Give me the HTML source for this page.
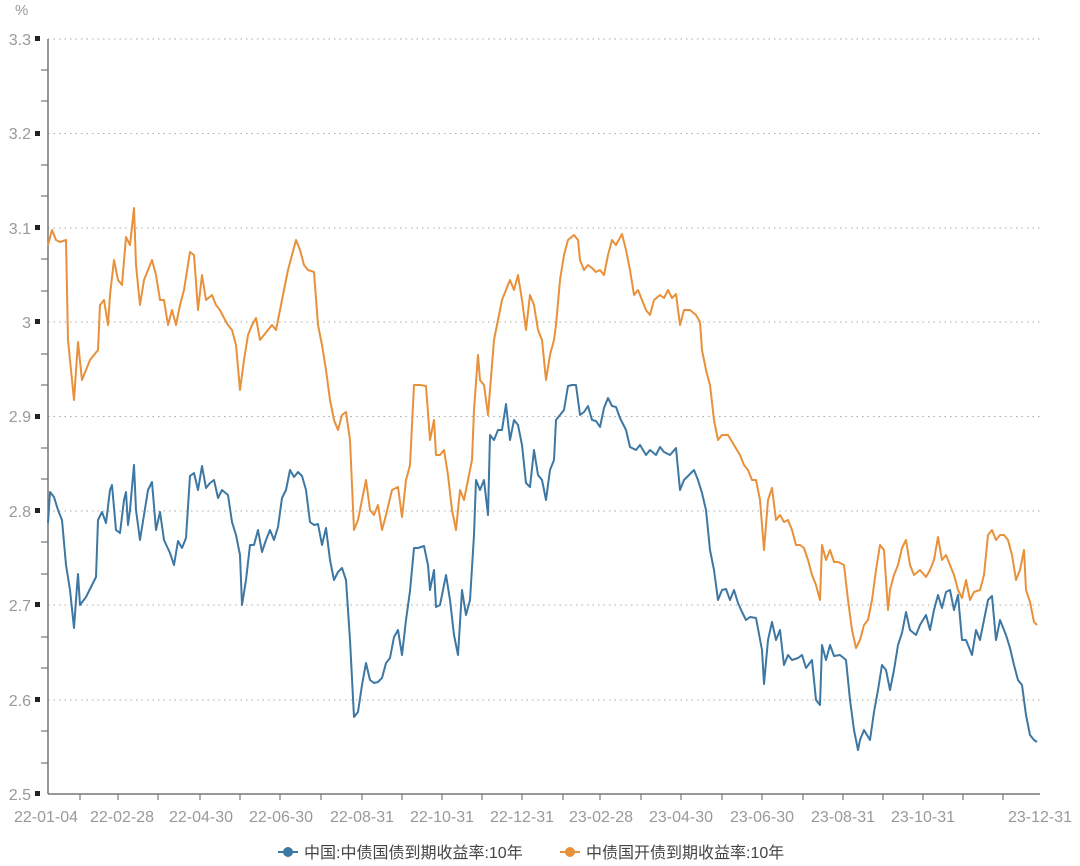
<!DOCTYPE html>
<html><head><meta charset="utf-8"><style>
body{margin:0;background:#fff;}
svg text{font-family:"Liberation Sans","Noto Sans CJK SC",sans-serif;}
</style></head><body>
<svg width="1080" height="861" viewBox="0 0 1080 861" xmlns="http://www.w3.org/2000/svg">
<g stroke="#aaa" stroke-dasharray="1.5,4" stroke-width="1">
<line x1="48" y1="39" x2="1040" y2="39"/><line x1="48" y1="133.5" x2="1040" y2="133.5"/><line x1="48" y1="228" x2="1040" y2="228"/><line x1="48" y1="322" x2="1040" y2="322"/><line x1="48" y1="416.5" x2="1040" y2="416.5"/><line x1="48" y1="511" x2="1040" y2="511"/><line x1="48" y1="605" x2="1040" y2="605"/><line x1="48" y1="700" x2="1040" y2="700"/>
</g>
<line x1="48" y1="39" x2="48" y2="794" stroke="#777" stroke-width="1.5"/>
<line x1="48" y1="794" x2="1040" y2="794" stroke="#777" stroke-width="1.5"/>
<g stroke="#777" stroke-width="1.2" id="yt"></g>
<g fill="#999" font-size="16" text-anchor="end">
<text x="31" y="45">3.3</text><text x="31" y="139">3.2</text><text x="31" y="234">3.1</text><text x="31" y="328">3</text><text x="31" y="422">2.9</text><text x="31" y="517">2.8</text><text x="31" y="611">2.7</text><text x="31" y="706">2.6</text><text x="31" y="800">2.5</text>
</g>
<g fill="#222"><rect x="35" y="36" width="5" height="5"/><rect x="35" y="131" width="5" height="5"/><rect x="35" y="225" width="5" height="5"/><rect x="35" y="319" width="5" height="5"/><rect x="35" y="414" width="5" height="5"/><rect x="35" y="508" width="5" height="5"/><rect x="35" y="602" width="5" height="5"/><rect x="35" y="697" width="5" height="5"/><rect x="35" y="791" width="5" height="5"/></g>
<text x="15" y="15" fill="#999" font-size="15">%</text>
<g fill="#999" font-size="16" text-anchor="middle">
<text x="46" y="822">22-01-04</text><text x="122" y="822">22-02-28</text><text x="201" y="822">22-04-30</text><text x="281" y="822">22-06-30</text><text x="362" y="822">22-08-31</text><text x="442" y="822">22-10-31</text><text x="522" y="822">22-12-31</text><text x="601" y="822">23-02-28</text><text x="681" y="822">23-04-30</text><text x="762" y="822">23-06-30</text><text x="843" y="822">23-08-31</text><text x="923" y="822">23-10-31</text><text x="1040" y="822">23-12-31</text>
</g>
<polyline fill="none" stroke="#3d77a3" stroke-width="2" stroke-linejoin="round" points="48,523 50,492 54,497 58,510 62,520 66,565 70,590 74,628 76,600 78,574 80,605 86,597 92,585 96,577 98,520 102,512 106,523 110,490 112,485 116,530 120,533 124,500 126,492 128,525 130,510 134,465 136,510 140,540 144,515 148,490 152,482 156,530 160,512 164,540 170,553 174,565 178,541 182,548 186,538 190,476 194,473 198,490 202,466 206,488 210,483 214,480 218,498 222,490 228,495 232,522 236,535 240,555 242,605 246,580 250,545 254,545 258,530 262,552 266,540 270,530 274,540 278,527 282,498 286,490 290,470 294,477 298,472 302,476 306,490 310,522 314,525 318,524 322,545 326,528 330,560 334,580 338,572 342,568 346,580 350,640 354,717 358,712 362,685 366,663 370,680 374,683 378,682 382,678 386,663 390,658 394,637 398,630 402,655 406,620 410,591 414,548 418,548 424,546 428,565 430,590 434,570 436,607 440,605 446,575 450,600 454,635 458,655 462,590 466,615 470,600 474,535 476,480 480,490 484,480 488,515 490,435 494,440 498,430 502,430 506,404 510,440 514,420 518,425 522,445 526,483 530,487 534,450 538,475 542,480 546,500 550,470 554,460 556,420 560,415 564,410 568,386 572,385 576,385 580,415 584,412 588,406 592,420 596,421 600,427 604,408 608,398 612,406 616,407 620,418 626,430 630,447 636,450 640,445 646,455 650,450 656,455 660,447 664,452 670,455 676,448 680,490 684,480 690,474 694,470 698,480 702,493 706,510 710,550 714,570 718,600 722,590 726,589 730,600 734,590 738,603 742,612 746,620 750,617 756,618 762,650 764,684 768,640 772,622 776,640 780,630 784,665 788,655 792,660 798,658 802,655 806,668 812,660 816,700 820,705 822,645 826,660 830,645 834,656 840,655 846,660 850,700 854,730 858,750 860,740 864,730 870,740 874,712 878,690 882,665 886,670 890,690 894,670 898,645 902,633 906,612 910,630 916,635 920,625 926,615 930,630 934,610 938,595 942,608 946,592 950,590 954,610 958,595 962,640 966,640 972,655 976,630 980,640 984,620 988,600 992,596 996,640 1000,620 1006,635 1010,648 1014,665 1018,680 1022,685 1026,715 1030,735 1034,740 1037,742"/>
<polyline fill="none" stroke="#e8913a" stroke-width="2" stroke-linejoin="round" points="48,245 52,230 56,240 60,242 66,240 68,340 72,380 74,400 78,342 82,380 86,370 90,360 94,355 98,350 100,305 104,300 108,325 110,295 114,260 118,280 122,285 126,237 130,245 134,208 136,265 140,305 144,280 148,270 152,260 156,275 160,300 164,300 168,325 172,310 176,325 180,305 184,290 190,252 194,255 198,310 202,275 206,300 212,295 216,305 220,310 224,318 228,325 232,330 236,345 240,390 244,360 248,335 252,325 256,318 260,340 264,335 268,330 272,325 276,330 280,310 284,290 288,270 292,255 296,240 300,250 304,265 308,270 314,272 318,325 322,345 326,370 330,400 334,420 338,430 342,415 346,412 350,440 354,530 358,520 362,500 366,480 370,510 374,515 378,505 382,530 386,515 392,490 398,487 402,517 406,480 410,465 414,385 420,385 426,386 430,440 434,420 436,455 440,455 444,450 448,475 452,510 456,530 460,490 464,500 468,480 472,460 474,410 478,355 480,380 484,385 488,415 492,365 494,340 498,320 502,300 506,290 510,280 514,290 518,275 522,300 526,330 530,295 534,305 538,330 542,340 546,380 550,355 554,340 556,325 560,280 564,255 568,240 574,235 578,240 580,260 584,270 588,265 592,268 596,272 600,270 604,275 608,255 612,240 616,245 622,234 626,250 630,270 634,295 638,290 642,300 646,310 650,315 654,300 660,295 664,298 668,290 672,298 676,294 680,325 684,310 690,310 696,315 700,322 702,350 706,370 710,385 714,420 718,440 722,435 728,435 734,445 740,455 744,465 748,470 752,480 756,480 760,500 764,550 768,500 772,488 776,520 780,515 784,522 788,520 792,530 796,545 800,545 804,548 808,560 812,575 816,585 820,600 822,545 826,560 830,550 834,562 838,562 844,565 848,600 852,630 856,648 860,640 864,625 868,620 872,600 876,570 880,545 884,550 888,610 890,590 894,575 898,565 902,548 906,540 910,565 914,575 920,570 926,577 930,570 934,560 938,537 942,560 946,555 950,565 954,575 958,590 962,598 966,580 970,600 974,592 980,590 984,575 988,535 992,530 996,540 1000,535 1004,535 1008,540 1012,555 1016,580 1020,570 1024,550 1026,590 1030,602 1034,622 1037,625"/>
<g stroke="#777" stroke-width="1.2">
<line x1="41" y1="70" x2="48" y2="70"/><line x1="41" y1="101" x2="48" y2="101"/><line x1="41" y1="165" x2="48" y2="165"/><line x1="41" y1="196" x2="48" y2="196"/><line x1="41" y1="259" x2="48" y2="259"/><line x1="41" y1="291" x2="48" y2="291"/><line x1="41" y1="354" x2="48" y2="354"/><line x1="41" y1="385" x2="48" y2="385"/><line x1="41" y1="448" x2="48" y2="448"/><line x1="41" y1="479" x2="48" y2="479"/><line x1="41" y1="542" x2="48" y2="542"/><line x1="41" y1="574" x2="48" y2="574"/><line x1="41" y1="637" x2="48" y2="637"/><line x1="41" y1="668" x2="48" y2="668"/><line x1="41" y1="731" x2="48" y2="731"/><line x1="41" y1="763" x2="48" y2="763"/>
<line x1="80" y1="794" x2="80" y2="800"/><line x1="118" y1="794" x2="118" y2="800"/><line x1="158" y1="794" x2="158" y2="800"/><line x1="200" y1="794" x2="200" y2="800"/><line x1="240" y1="794" x2="240" y2="800"/><line x1="280" y1="794" x2="280" y2="800"/><line x1="321" y1="794" x2="321" y2="800"/><line x1="362" y1="794" x2="362" y2="800"/><line x1="402" y1="794" x2="402" y2="800"/><line x1="442" y1="794" x2="442" y2="800"/><line x1="482" y1="794" x2="482" y2="800"/><line x1="522" y1="794" x2="522" y2="800"/><line x1="563" y1="794" x2="563" y2="800"/><line x1="600" y1="794" x2="600" y2="800"/><line x1="641" y1="794" x2="641" y2="800"/><line x1="681" y1="794" x2="681" y2="800"/><line x1="722" y1="794" x2="722" y2="800"/><line x1="762" y1="794" x2="762" y2="800"/><line x1="803" y1="794" x2="803" y2="800"/><line x1="843" y1="794" x2="843" y2="800"/><line x1="883" y1="794" x2="883" y2="800"/><line x1="923" y1="794" x2="923" y2="800"/><line x1="963" y1="794" x2="963" y2="800"/><line x1="1003" y1="794" x2="1003" y2="800"/>
</g>
<line x1="278" y1="852" x2="298" y2="852" stroke="#3d77a3" stroke-width="2"/><circle cx="288" cy="852" r="5" fill="#3d77a3"/>
<text x="304" y="858" font-size="16" fill="#444">中国:中债国债到期收益率:10年</text>
<line x1="560" y1="852" x2="580" y2="852" stroke="#e8913a" stroke-width="2"/><circle cx="570" cy="852" r="5" fill="#e8913a"/>
<text x="586" y="858" font-size="16" fill="#444">中债国开债到期收益率:10年</text>
</svg>
</body></html>
